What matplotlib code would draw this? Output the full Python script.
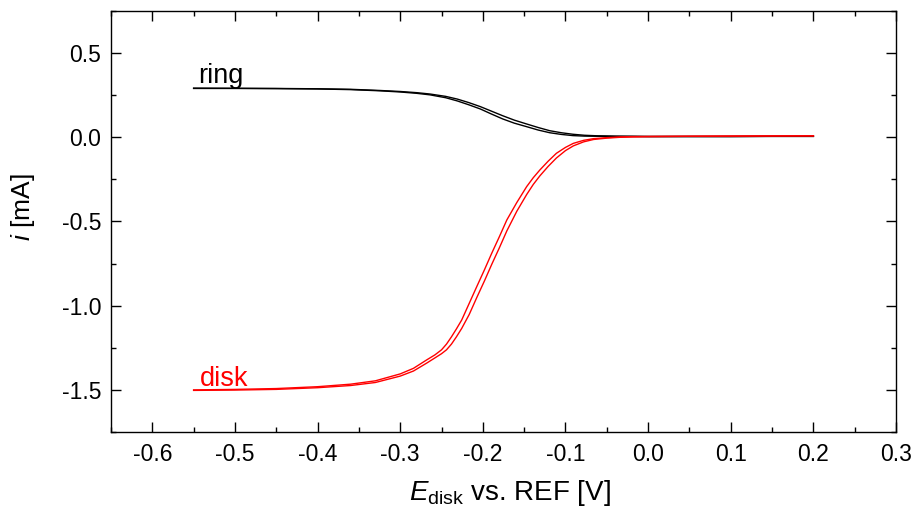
import numpy as np
import matplotlib.pyplot as plt
from matplotlib.ticker import MultipleLocator

plt.rcParams['font.family'] = ['Liberation Sans', 'DejaVu Sans']
plt.rcParams['mathtext.fontset'] = 'custom'
plt.rcParams['mathtext.rm'] = 'Liberation Sans'
plt.rcParams['mathtext.it'] = 'Liberation Sans:italic'
plt.rcParams['axes.unicode_minus'] = False

# ring current, two sweeps (V vs REF, mA)
ring_E = [-0.55, -0.50, -0.45, -0.40, -0.36, -0.3245, -0.30, -0.28, -0.264, -0.245,
          -0.231, -0.217, -0.203, -0.19, -0.176, -0.162, -0.147, -0.133, -0.119, -0.105,
          -0.091, -0.077, -0.062, -0.04, -0.02, 0.0, 0.05, 0.10, 0.15, 0.20]
ring_a = [0.292, 0.291, 0.290, 0.288, 0.285, 0.278, 0.272, 0.265, 0.257, 0.243,
          0.227, 0.206, 0.182, 0.156, 0.128, 0.102, 0.079, 0.058, 0.039, 0.027,
          0.018, 0.012, 0.009, 0.007, 0.006, 0.005, 0.005, 0.005, 0.006, 0.006]
ring_b = [0.290, 0.290, 0.289, 0.287, 0.283, 0.276, 0.269, 0.261, 0.252, 0.235,
          0.216, 0.193, 0.168, 0.139, 0.109, 0.084, 0.063, 0.043, 0.027, 0.017,
          0.010, 0.007, 0.006, 0.005, 0.005, 0.004, 0.004, 0.004, 0.005, 0.005]

# disk current, two sweeps
disk_E = [-0.55, -0.50, -0.45, -0.40, -0.36, -0.33, -0.30, -0.284, -0.268, -0.258,
          -0.25, -0.244, -0.238, -0.232, -0.2256, -0.2165, -0.2074, -0.198, -0.1893, -0.18,
          -0.171, -0.159, -0.147, -0.139, -0.131, -0.121, -0.111, -0.10, -0.0905, -0.078,
          -0.066, -0.05, -0.034, -0.02, 0.0, 0.05, 0.10, 0.15, 0.20]
disk_a = [-1.500, -1.497, -1.492, -1.481, -1.466, -1.446, -1.405, -1.372, -1.322, -1.292,
          -1.262, -1.228, -1.185, -1.138, -1.085, -0.986, -0.887, -0.786, -0.689, -0.590,
          -0.491, -0.388, -0.293, -0.240, -0.194, -0.142, -0.095, -0.060, -0.036, -0.018,
          -0.008, -0.002, 0.002, 0.004, 0.005, 0.006, 0.007, 0.008, 0.009]
disk_b = [-1.503, -1.501, -1.497, -1.487, -1.474, -1.456, -1.418, -1.388, -1.341, -1.310,
          -1.285, -1.262, -1.228, -1.185, -1.135, -1.052, -0.952, -0.852, -0.755, -0.656,
          -0.556, -0.440, -0.340, -0.280, -0.229, -0.173, -0.123, -0.079, -0.051, -0.027,
          -0.013, -0.005, 0.000, 0.002, 0.004, 0.006, 0.007, 0.008, 0.008]

fig = plt.figure(figsize=(9.12, 5.11), dpi=100)
ax = fig.add_axes([0.1217, 0.1546, 0.8608, 0.8239])

ax.plot(ring_E, ring_a, color='black', lw=1.0)
ax.plot(ring_E, ring_b, color='black', lw=1.0)
ax.plot(disk_E, disk_a, color='red', lw=1.0)
ax.plot(disk_E, disk_b, color='red', lw=1.0)

ax.text(-0.544, 0.321, 'ring', fontsize=19.5, color='black', va='baseline')
ax.text(-0.543, -1.477, 'disk', fontsize=19.5, color='red', va='baseline')

ax.set_xlim(-0.65, 0.3)
ax.set_ylim(-1.75, 0.75)
ax.xaxis.set_major_locator(MultipleLocator(0.1))
ax.xaxis.set_minor_locator(MultipleLocator(0.05))
ax.yaxis.set_major_locator(MultipleLocator(0.5))
ax.yaxis.set_minor_locator(MultipleLocator(0.25))
ax.xaxis.set_major_formatter(plt.FormatStrFormatter('%.1f'))
ax.yaxis.set_major_formatter(plt.FormatStrFormatter('%.1f'))

ax.tick_params(which='both', direction='in', top=True, right=True, width=1.0,
               labelsize=16.5)
ax.tick_params(axis='x', pad=8)
ax.tick_params(axis='y', pad=7)
ax.tick_params(which='major', length=7)
ax.tick_params(which='minor', length=3.5)
for s in ax.spines.values():
    s.set_linewidth(1.0)

ax.set_xlabel(r'$\mathit{E}_{\rm disk}$ vs. REF [V]', fontsize=20)
ax.set_ylabel(r'$\mathit{i}$ [mA]', fontsize=19)
ax.xaxis.set_label_coords(0.508, -0.11)
ax.yaxis.set_label_coords(-0.094, 0.534)

fig.savefig('out.png', dpi=100)
